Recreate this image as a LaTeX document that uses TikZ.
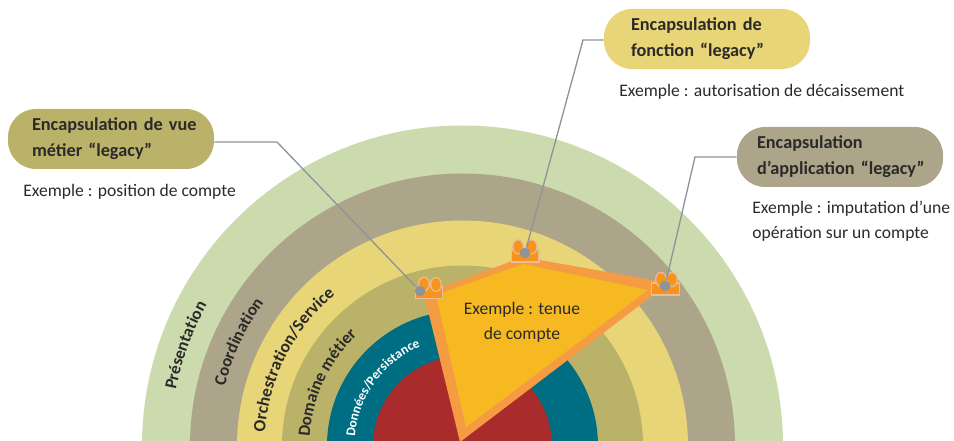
\documentclass[tikz,border=0pt]{standalone}
\usepackage{fontspec}
\setmainfont{Carlito}
\usetikzlibrary{decorations.text,shapes.geometric}
\definecolor{presentation}{HTML}{CBDBAE}
\definecolor{coordination}{HTML}{ACA58A}
\definecolor{orchestration}{HTML}{E8D578}
\definecolor{domaine}{HTML}{BBB26A}
\definecolor{donnees}{HTML}{006E82}
\definecolor{rouge}{HTML}{A92B2C}
\definecolor{jaune}{HTML}{F6B922}
\definecolor{bordure}{HTML}{F59B42}
\definecolor{icone}{HTML}{F7941D}
\definecolor{rose}{HTML}{EBBD96}
\definecolor{gris}{HTML}{8F949B}
\definecolor{encre}{HTML}{2B2A29}
\tikzset{
  pillbox/.style={rectangle,rounded corners=21pt,minimum height=45pt,inner ysep=0pt,
    inner xsep=#1*0.75pt,text width={154.5pt-1.5pt*#1},align=left,
    font=\fontsize{13.7}{19.5}\selectfont\bfseries,text=encre},
  exemple/.style={font=\fontsize{13.2}{18.8}\selectfont,text=encre,align=left,inner sep=0pt},
  iconbox/.style={draw=rose,fill=icone,line width=0.8pt,minimum width=20.5pt,minimum height=9pt,inner sep=0pt},
  iconear/.style={ellipse,draw=rose,fill=icone,line width=0.9pt,minimum width=8pt,minimum height=10.5pt,inner sep=0pt},
  pindot/.style={circle,fill=gris,minimum size=8pt,inner sep=0pt},
  lien/.style={draw=gris,line width=1pt},
  ringlabel/.style={decorate,decoration={text along path,text align=center,text color=#1}}
}
\begin{document}
\begin{tikzpicture}[x=0.75pt,y=0.75pt]
  \useasboundingbox (0,-441) rectangle (954,0);
  \clip (0,-441) rectangle (954,0);
  \coordinate (centre) at (462.5,-446);
  % rings
  \fill[presentation] (centre) circle (320.5);
  \fill[coordination] (centre) circle (272.5);
  \fill[orchestration] (centre) circle (225.5);
  \fill[domaine] (centre) circle (180.5);
  \fill[donnees] (centre) circle (135.5);
  \fill[rouge] (centre) circle (89.5);
  % ring labels
  \path[ringlabel=encre,decoration={text={|\fontsize{12.8}{15}\selectfont\bfseries|Présentation}}]
    ([shift=(175:292)]centre) arc[start angle=175,delta angle=-30,radius=292];
  \path[ringlabel=encre,decoration={text={|\fontsize{12.8}{15}\selectfont\bfseries|Coordination}}]
    ([shift=(170:245)]centre) arc[start angle=170,delta angle=-30,radius=245];
  \path[ringlabel=encre,decoration={text={|\fontsize{13}{15}\selectfont\bfseries|Orchestration/Service}}]
    ([shift=(183:198)]centre) arc[start angle=183,delta angle=-60,radius=198];
  \path[ringlabel=encre,decoration={text={|\fontsize{12.8}{15}\selectfont\bfseries|Domaine métier}}]
    ([shift=(185:153)]centre) arc[start angle=185,delta angle=-60,radius=153];
  \path[ringlabel=white,decoration={text={|\fontsize{10}{13}\selectfont\bfseries|Données/Persistance}}]
    ([shift=(184:108)]centre) arc[start angle=184,delta angle=-80,radius=108];
  % central shape
  \fill[bordure] (424,-294) -- (523,-257) -- (669,-283) -- (460,-442) -- cycle;
  \fill[jaune] (436,-295) -- (523,-264) -- (648,-290) -- (466,-427) -- cycle;
  \node[exemple,align=center] (tenue) at (522,-322) {Exemple : tenue\\de compte};
  % icons
  \node[iconbox] (boxA) at (429,-292.5) {};
  \node[iconear] (earAa) at (424,-284) {};
  \node[iconear] (earAb) at (436,-284.5) {};
  \node[iconbox] (boxB) at (525.3,-256) {};
  \node[iconear] (earBa) at (518,-246.7) {};
  \node[iconear] (earBb) at (531.7,-246.7) {};
  \node[iconbox] (boxC) at (665.5,-289) {};
  \node[iconear] (earCa) at (661,-279.5) {};
  \node[iconear] (earCb) at (672,-279.5) {};
  % boxes
  \node[pillbox=24,fill=domaine] (pillvue) at (111,-139) {\mbox{Encapsulation de vue}\\\mbox{métier “legacy”}};
  \node[pillbox=27,fill=orchestration] (pillfonction) at (707,-39) {\mbox{Encapsulation de}\\\mbox{fonction “legacy”}};
  \node[pillbox=20,fill=coordination] (pillappli) at (840,-157) {\mbox{Encapsulation}\\\mbox{d’application “legacy”}};
  \node[exemple,anchor=west] (exvue) at (23,-191.5) {Exemple : position de compte};
  \node[exemple,anchor=west] (exfonction) at (619,-91.5) {Exemple : autorisation de décaissement};
  \node[exemple,anchor=west] (exappli) at (752,-221.5) {Exemple : imputation d’une\\opération sur un compte};
  % connectors
  \node[pindot] (dotA) at (420,-291) {};
  \node[pindot] (dotB) at (525,-253) {};
  \node[pindot] (dotC) at (665,-286) {};
  \coordinate (elbowA) at (277,-142);
  \coordinate (elbowB) at (583,-40);
  \coordinate (elbowC) at (695,-157);
  \draw[lien] (pillvue.east |- elbowA) -- (elbowA) -- (dotA);
  \draw[lien] (pillfonction.west |- elbowB) -- (elbowB) -- (dotB);
  \draw[lien] (pillappli.west) -- (elbowC) -- (dotC);
\end{tikzpicture}
\end{document}
